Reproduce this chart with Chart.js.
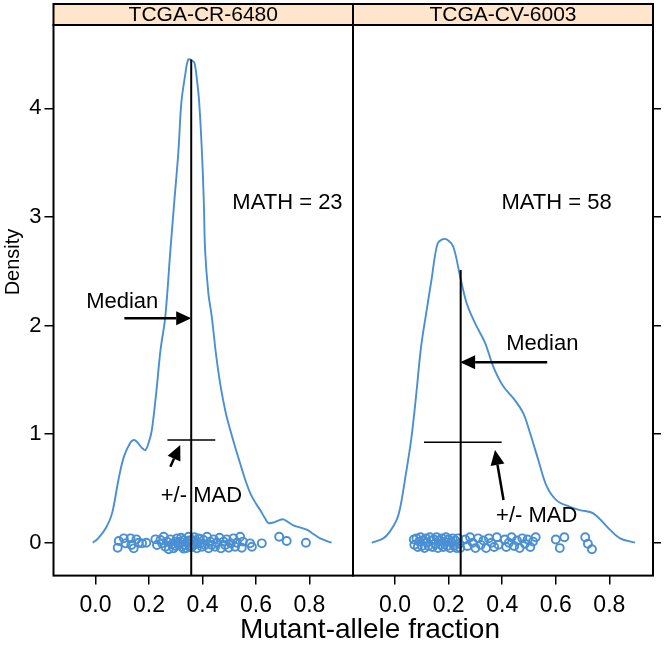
<!DOCTYPE html>
<html lang="en">
<head>
<meta charset="UTF-8">
<title>MATH density</title>
<script src="https://cdn.jsdelivr.net/npm/chart.js"></script>
<style>
  body { margin: 0; background: #fff; }
  #wrap { position: relative; width: 666px; height: 649px; }
  #wrap canvas { position: absolute; left: 0; top: 0; }
</style>
</head>
<body>
<div id="wrap">
  <canvas id="left" width="666" height="649"></canvas>
  <canvas id="right" width="666" height="649"></canvas>
</div>
<script>
// tick labels
const xTicks = [0, 0.2, 0.4, 0.6, 0.8];
const yTicks = [0, 1, 2, 3, 4];

// panels
const samples = ['TCGA-CR-6480', 'TCGA-CV-6003'];
const mathScores = [23, 58];
const medians = [0.358, 0.245];
const madLow = [0.269, 0.108];
const madHigh = [0.448, 0.398];

// density curve, TCGA-CR-6480
const densX1 = [-0.01, 0.01, 0.04, 0.062, 0.086, 0.106, 0.13, 0.143, 0.155, 0.175, 0.187, 0.2, 0.211, 0.228, 0.243, 0.261, 0.28, 0.295, 0.31, 0.321, 0.335, 0.347, 0.36, 0.37, 0.38, 0.388, 0.398, 0.405, 0.41, 0.422, 0.435, 0.45, 0.466, 0.485, 0.497, 0.52, 0.541, 0.56, 0.58, 0.6, 0.616, 0.635, 0.647, 0.67, 0.69, 0.703, 0.72, 0.74, 0.79, 0.815, 0.84, 0.883];
const densY1 = [0, 0.04, 0.14, 0.27, 0.58, 0.79, 0.92, 0.946, 0.93, 0.87, 0.854, 0.93, 1.04, 1.4, 1.77, 2.08, 2.69, 3.15, 3.6, 4.05, 4.3, 4.45, 4.44, 4.42, 4.25, 4.05, 3.6, 3.15, 2.69, 2.3, 2.08, 1.75, 1.47, 1.22, 1.1, 0.9, 0.73, 0.58, 0.45, 0.36, 0.3, 0.22, 0.18, 0.19, 0.21, 0.215, 0.19, 0.16, 0.12, 0.08, 0.04, 0];

// density curve, TCGA-CV-6003
const densX2 = [-0.087, -0.044, -0.02, 0.006, 0.019, 0.037, 0.06, 0.078, 0.097, 0.116, 0.136, 0.157, 0.174, 0.195, 0.218, 0.243, 0.268, 0.299, 0.336, 0.367, 0.404, 0.448, 0.479, 0.504, 0.535, 0.566, 0.603, 0.653, 0.69, 0.74, 0.802, 0.84, 0.896];
const densY2 = [0, 0.04, 0.1, 0.21, 0.32, 0.58, 0.946, 1.34, 1.8, 2.11, 2.42, 2.74, 2.79, 2.79, 2.72, 2.45, 2.2, 2.02, 1.84, 1.62, 1.44, 1.31, 1.19, 1.01, 0.76, 0.52, 0.39, 0.33, 0.3, 0.27, 0.12, 0.04, 0];

// jittered observations, TCGA-CR-6480
const obsX1 = [0.087, 0.083, 0.106, 0.112, 0.131, 0.134, 0.143, 0.153, 0.162, 0.174, 0.19, 0.224, 0.23, 0.243, 0.249, 0.255, 0.261, 0.267, 0.274, 0.28, 0.286, 0.292, 0.299, 0.305, 0.311, 0.317, 0.323, 0.33, 0.336, 0.342, 0.348, 0.354, 0.361, 0.367, 0.373, 0.379, 0.386, 0.392, 0.398, 0.404, 0.41, 0.417, 0.423, 0.429, 0.435, 0.442, 0.448, 0.454, 0.464, 0.469, 0.479, 0.485, 0.491, 0.498, 0.506, 0.516, 0.522, 0.529, 0.541, 0.547, 0.551, 0.578, 0.585, 0.622, 0.687, 0.715, 0.787, 0.3, 0.32, 0.34, 0.35, 0.36, 0.37, 0.38, 0.39, 0.31, 0.33];
const obsY1 = [0.016, -0.046, 0.04, -0.006, 0.04, -0.021, -0.052, 0.031, 0, -0.006, 0, 0.031, -0.021, 0.025, -0.006, 0.055, -0.037, 0.01, -0.061, 0.031, -0.015, -0.052, 0.01, 0.04, -0.021, 0.01, -0.037, 0.025, -0.021, 0, 0.055, -0.037, 0.025, -0.021, 0.01, -0.052, 0.04, -0.006, -0.037, 0.025, -0.021, 0.055, -0.052, 0.01, -0.021, 0.031, -0.037, 0, 0.046, -0.052, 0.01, -0.021, 0.031, -0.046, -0.006, 0.04, -0.037, 0, 0.055, -0.046, 0.01, -0.006, -0.037, -0.006, 0.055, 0.016, 0, -0.03, 0.045, -0.05, 0.02, -0.04, 0.05, -0.01, 0.035, 0, -0.055];

// jittered observations, TCGA-CV-6003
const obsX2 = [0.07, 0.072, 0.08, 0.085, 0.09, 0.095, 0.1, 0.105, 0.11, 0.115, 0.12, 0.125, 0.13, 0.135, 0.14, 0.145, 0.15, 0.155, 0.16, 0.165, 0.17, 0.175, 0.18, 0.185, 0.19, 0.195, 0.2, 0.205, 0.21, 0.215, 0.22, 0.225, 0.23, 0.235, 0.24, 0.243, 0.262, 0.27, 0.28, 0.29, 0.3, 0.31, 0.32, 0.33, 0.34, 0.35, 0.36, 0.37, 0.38, 0.386, 0.41, 0.415, 0.425, 0.435, 0.445, 0.455, 0.465, 0.475, 0.485, 0.495, 0.505, 0.515, 0.525, 0.6, 0.632, 0.615, 0.71, 0.72, 0.735];
const obsY2 = [0.03, -0.02, 0.04, -0.04, 0.01, 0.05, -0.03, 0.02, -0.05, 0.04, 0, -0.03, 0.05, 0.02, -0.04, 0.03, -0.01, 0.05, -0.05, 0.02, -0.02, 0.04, -0.04, 0.01, 0.05, -0.03, 0.03, -0.05, 0, 0.04, -0.03, 0.02, -0.05, 0.04, -0.01, -0.05, 0.03, -0.03, 0.05, 0, -0.05, 0.04, -0.02, 0.02, -0.05, 0.04, 0, -0.04, 0.05, -0.02, 0.03, -0.04, 0, 0.05, -0.03, 0.02, -0.05, 0.04, -0.01, 0.03, -0.04, 0.01, 0.05, 0.03, 0.05, -0.05, 0.05, -0.01, -0.06];

const blue = '#4a8fd3';
const font = 'Liberation Sans, Arial, sans-serif';
const narrow = '"Liberation Sans Narrow", "Liberation Sans", Arial, sans-serif';
const xMin = -0.157, xMax = 0.963, yMin = -0.303, yMax = 4.767;

function pairs(xs, ys) { return xs.map((v, i) => ({ x: v, y: ys[i] })); }

function arrow(ctx, x0, y0, x1, y1) {
  const ang = Math.atan2(y1 - y0, x1 - x0), len = 15, half = 7;
  const bx = x1 - len * Math.cos(ang), by = y1 - len * Math.sin(ang);
  ctx.beginPath(); ctx.moveTo(x0, y0); ctx.lineTo(bx, by); ctx.stroke();
  ctx.beginPath();
  ctx.moveTo(x1, y1);
  ctx.lineTo(bx + half * Math.sin(ang), by - half * Math.cos(ang));
  ctx.lineTo(bx - half * Math.sin(ang), by + half * Math.cos(ang));
  ctx.closePath(); ctx.fill();
}

// strip, frame, median / MAD marks and labels
const panelPlugin = {
  id: 'panel',
  beforeDraw(chart, args, o) {
    const { ctx, chartArea: a } = chart;
    ctx.save();
    ctx.fillStyle = '#ffe5cc';
    ctx.fillRect(a.left, 4, a.right - a.left, a.top - 4);
    ctx.strokeStyle = '#000'; ctx.lineWidth = 2;
    ctx.strokeRect(a.left, 4, a.right - a.left, a.top - 4);
    ctx.fillStyle = '#000';
    ctx.font = '21px ' + font;
    ctx.textAlign = 'center'; ctx.textBaseline = 'middle';
    ctx.fillText(samples[o.i], (a.left + a.right) / 2, (a.top + 4) / 2 + 1);
    ctx.restore();
  },
  afterDatasetsDraw(chart, args, o) {
    const { ctx, chartArea: a, scales: { x, y } } = chart;
    const i = o.i;
    ctx.save();
    ctx.strokeStyle = '#000'; ctx.fillStyle = '#000';
    ctx.lineWidth = 2;
    // median line
    ctx.beginPath();
    ctx.moveTo(x.getPixelForValue(medians[i]), y.getPixelForValue(o.medianTop));
    ctx.lineTo(x.getPixelForValue(medians[i]), a.bottom);
    ctx.stroke();
    // MAD bar
    ctx.lineWidth = 1.5;
    ctx.beginPath();
    ctx.moveTo(x.getPixelForValue(madLow[i]), y.getPixelForValue(o.madY));
    ctx.lineTo(x.getPixelForValue(madHigh[i]), y.getPixelForValue(o.madY));
    ctx.stroke();
    // arrows
    ctx.lineWidth = 2.5;
    o.arrows.forEach(ar => arrow(ctx,
      x.getPixelForValue(ar[0]), y.getPixelForValue(ar[1]),
      x.getPixelForValue(ar[2]), y.getPixelForValue(ar[3])));
    // labels
    ctx.font = '22px ' + font;
    ctx.textAlign = 'center'; ctx.textBaseline = 'middle';
    o.labels.forEach(l => ctx.fillText(l[0], x.getPixelForValue(l[1]), y.getPixelForValue(l[2])));
    // frame
    ctx.lineWidth = 2;
    ctx.strokeRect(a.left, a.top, a.right - a.left, a.bottom - a.top);
    if (i === 0) {
      ctx.font = '28px ' + font;
      ctx.fillText('Mutant-allele fraction', 370, 630);
      ctx.save();
      ctx.translate(13, 262);
      ctx.rotate(-Math.PI / 2);
      ctx.font = '20px ' + font;
      ctx.fillText('Density', 0, 0);
      ctx.restore();
    }
    ctx.restore();
  }
};

function makeChart(id, i, pad, yPos, densX, densY, obsX, obsY, extra) {
  return new Chart(document.getElementById(id), {
    type: 'line',
    data: {
      datasets: [
        { data: pairs(densX, densY), borderColor: blue, borderWidth: 1.9, pointRadius: 0, tension: 0.35, fill: false },
        { type: 'scatter', data: pairs(obsX, obsY), borderColor: blue, backgroundColor: 'rgba(0,0,0,0)', borderWidth: 1.9, pointRadius: 4 }
      ]
    },
    options: {
      responsive: false,
      animation: false,
      layout: { padding: pad },
      plugins: { legend: { display: false }, tooltip: { enabled: false }, panel: Object.assign({ i: i }, extra) },
      scales: {
        x: {
          type: 'linear', min: xMin, max: xMax,
          afterBuildTicks: s => { s.ticks = xTicks.map(v => ({ value: v })); },
          afterFit: s => { s.height = 73.4; },
          grid: { drawOnChartArea: false, tickLength: 9, color: '#000', lineWidth: 1.5 },
          border: { display: false },
          ticks: { color: '#000', padding: 7, font: { family: narrow, size: 23 }, callback: v => v.toFixed(1), maxRotation: 0 }
        },
        y: {
          type: 'linear', position: yPos, min: yMin, max: yMax,
          afterBuildTicks: s => { s.ticks = yTicks.map(v => ({ value: v })); },
          afterFit: s => { s.width = yPos === 'left' ? 53.5 : 13; },
          grid: { drawOnChartArea: false, tickLength: yPos === 'left' ? 9 : 8, color: '#000', lineWidth: 1.5 },
          border: { display: false },
          ticks: { display: yPos === 'left', color: '#000', padding: 3, font: { family: font, size: 22 } }
        }
      }
    },
    plugins: [panelPlugin]
  });
}

makeChart('left', 0, { top: 25, right: 313, left: 0, bottom: 0 }, 'left', densX1, densY1, obsX1, obsY1, {
  medianTop: 4.45, madY: 0.945,
  arrows: [[0.108, 2.066, 0.358, 2.066], [0.28, 0.7, 0.317, 0.9]],
  labels: [['Median', 0.1, 2.216], ['+/- MAD', 0.396, 0.435], ['MATH = ' + mathScores[0], 0.718, 3.128]]
});
makeChart('right', 1, { top: 25, right: 0, left: 353, bottom: 0 }, 'right', densX2, densY2, obsX2, obsY2, {
  medianTop: 2.51, madY: 0.925,
  arrows: [[0.568, 1.661, 0.243, 1.661], [0.405, 0.393, 0.373, 0.854]],
  labels: [['Median', 0.55, 1.83], ['+/- MAD', 0.529, 0.245], ['MATH = ' + mathScores[1], 0.603, 3.128]]
});
</script>
</body>
</html>
